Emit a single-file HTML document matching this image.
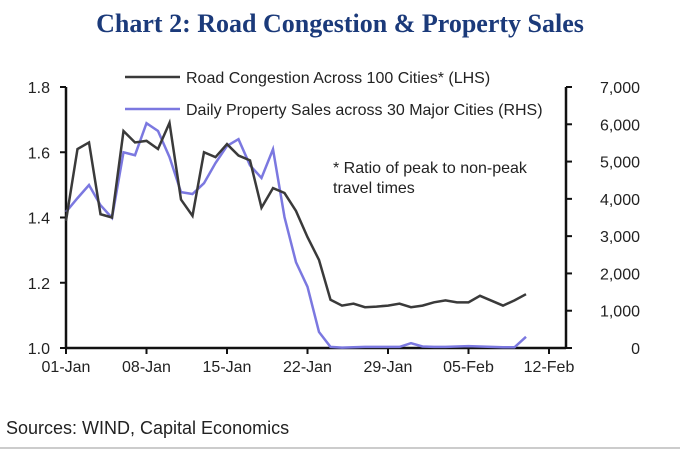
<!DOCTYPE html>
<html><head><meta charset="utf-8"><style>
body{margin:0;background:#fff;}
svg text{font-family:"Liberation Sans",sans-serif;fill:#222;}
</style></head><body>
<svg width="680" height="451" viewBox="0 0 680 451">
<text x="340" y="32" text-anchor="middle" style="font-family:'Liberation Serif',serif;font-weight:bold;font-size:26px;fill:#1b3a7a">Chart 2: Road Congestion &amp; Property Sales</text>
<g id="axes"></g>
<g id="series"></g>
<line x1="125" y1="77" x2="180" y2="77" stroke="#3a3a3a" stroke-width="2.5"/>
<text x="186" y="83" font-size="16">Road Congestion Across 100 Cities* (LHS)</text>
<line x1="125" y1="109" x2="180" y2="109" stroke="#7b78e0" stroke-width="2.5"/>
<text x="186" y="115" font-size="16">Daily Property Sales across 30 Major Cities (RHS)</text>
<text x="333" y="173" font-size="16">* Ratio of peak to non-peak</text>
<text x="333" y="193" font-size="16">travel times</text>
<line x1="0" y1="448" x2="680" y2="448" stroke="#bbb" stroke-width="1.5"/>
<text x="6" y="434" font-size="18">Sources: WIND, Capital Economics</text>
</svg>
<script>
const congestion=[1.39,1.61,1.63,1.41,1.40,1.665,1.63,1.635,1.61,1.69,1.455,1.405,1.60,1.585,1.625,1.59,1.575,1.43,1.49,1.475,1.42,1.34,1.27,1.148,1.13,1.136,1.125,1.127,1.13,1.136,1.125,1.13,1.14,1.146,1.14,1.14,1.16,1.145,1.13,1.146,1.165];
const sales=[3650,4020,4370,3830,3490,5250,5170,6030,5820,5120,4180,4130,4420,4960,5420,5600,4900,4560,5330,3510,2300,1640,430,30,10,20,30,30,30,30,130,40,30,30,40,50,40,30,20,20,300];
const xLabels=["01-Jan","08-Jan","15-Jan","22-Jan","29-Jan","05-Feb","12-Feb"];
const leftTicks=[1.0,1.2,1.4,1.6,1.8];
const rightTicks=[0,1000,2000,3000,4000,5000,6000,7000];
const NS="http://www.w3.org/2000/svg";
const X0=66,DAY=11.5,YT=87,YB=348;
const x=d=>X0+d*DAY;
const yL=v=>YB-(v-1.0)/0.8*(YB-YT);
const yR=v=>YB-v/7000*(YB-YT);
function mk(tag,attrs,parent){const e=document.createElementNS(NS,tag);for(const k in attrs)e.setAttribute(k,attrs[k]);parent.appendChild(e);return e;}
const ax=document.getElementById('axes');
let e;
e=mk('line',{x1:X0,y1:YT,x2:X0,y2:YB,stroke:'#111','stroke-width':2.5},ax);


e=mk('line',{x1:566,y1:YT,x2:566,y2:YB,stroke:'#111','stroke-width':2.5},ax);


e=mk('line',{x1:X0,y1:YB,x2:566,y2:YB,stroke:'#111','stroke-width':2.5},ax);


leftTicks.forEach(v=>{
 mk('line',{x1:X0-6,y1:yL(v),x2:X0,y2:yL(v),stroke:'#111','stroke-width':2},ax);
 e=mk('text',{x:50,y:yL(v)+6,'text-anchor':'end','font-size':16},ax);
 e.textContent=v.toFixed(1);
 
 
});
rightTicks.forEach(v=>{
 mk('line',{x1:566,y1:yR(v),x2:572,y2:yR(v),stroke:'#111','stroke-width':2},ax);
 e=mk('text',{x:640,y:yR(v)+6,'text-anchor':'end','font-size':16},ax);
 e.textContent=v.toLocaleString('en-US');
 
 
});
xLabels.forEach((l,i)=>{
 const xx=x(i*7);
 mk('line',{x1:xx,y1:YB,x2:xx,y2:YB+6,stroke:'#111','stroke-width':2},ax);
 e=mk('text',{x:xx,y:YB+24,'text-anchor':'middle','font-size':16},ax);
 e.textContent=l;
 
 
});
const sg=document.getElementById('series');
e=mk('polyline',{points:sales.map((v,i)=>x(i)+','+yR(v)).join(' '),fill:'none',stroke:'#7b78e0','stroke-width':2.5},sg);


e=mk('polyline',{points:congestion.map((v,i)=>x(i)+','+yL(v)).join(' '),fill:'none',stroke:'#3a3a3a','stroke-width':2.5},sg);


</script>
</body></html>
